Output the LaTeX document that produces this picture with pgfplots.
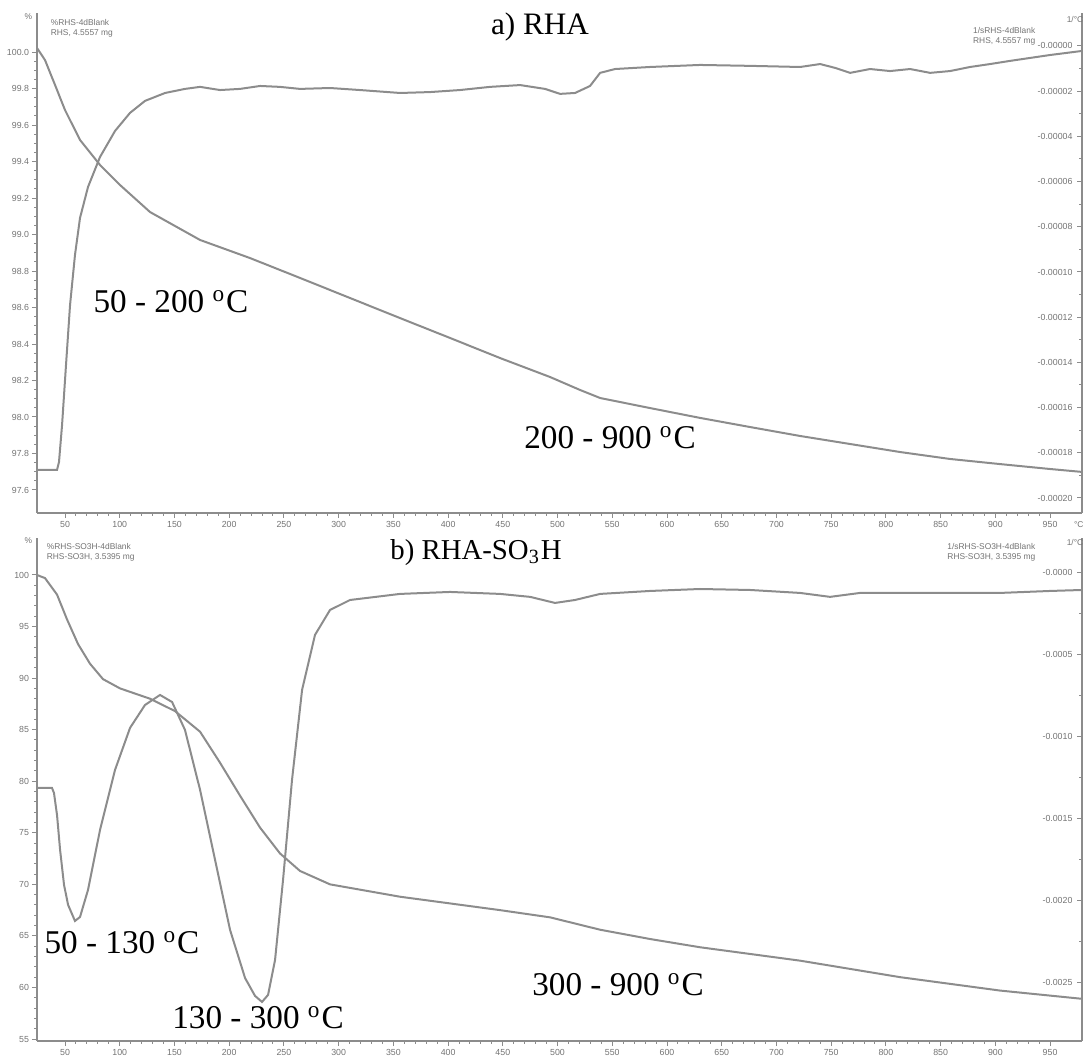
\documentclass[border=0pt]{standalone}
\usepackage{pgfplots}
\pgfplotsset{compat=1.18}
\usepackage{fontspec}
\setmainfont{Liberation Serif}
\newfontfamily\tickfont{Liberation Sans}
\definecolor{crv}{gray}{0.55}
\definecolor{axc}{gray}{0.55}
\definecolor{tlc}{gray}{0.45}
\pgfplotsset{
  tgbase/.style={
    scale only axis, anchor=south west,
    xmin=24.4, xmax=979.2,
    axis lines*=left,
    axis line style={axc, line width=0.35pt},
    tick style={axc, line width=0.25pt},
    tick align=outside,
    major tick length=1.3pt, minor tick length=0.7pt,
    xtick={50,100,...,950}, minor x tick num=4,
    /pgf/number format/assume math mode=true,
    ticklabel style={font=\fontsize{2.2}{2.5}\selectfont\tickfont, text=tlc, inner sep=0.5pt},
    xticklabel style={/pgf/number format/1000 sep={}},
    clip=false,
  },
  dtgbase/.style={
    scale only axis, anchor=south west,
    xmin=24.4, xmax=979.2,
    axis x line=none, axis y line*=right,
    axis line style={axc, line width=0.35pt},
    tick style={axc, line width=0.25pt},
    tick align=inside,
    major tick length=1.3pt, minor tick length=0.7pt,
    minor y tick num=1,
    /pgf/number format/assume math mode=true,
    yticklabel style={font=\fontsize{2.2}{2.5}\selectfont\tickfont, text=tlc, anchor=east, xshift=-1.6pt, inner sep=0.6pt},
    clip=false,
  },
  crvstyle/.style={crv, line width=0.5pt, no marks},
}
\begin{document}
\begin{tikzpicture}
% ---------------- panel a ----------------
\begin{axis}[tgbase, at={(9.25pt,136pt)}, width=261.25pt, height=125pt,
  ymin=97.474, ymax=100.214,
  ytick={97.6,97.8,98.0,98.2,98.4,98.6,98.8,99.0,99.2,99.4,99.6,99.8,100.0},
  yticklabels={97.6,97.8,98.0,98.2,98.4,98.6,98.8,99.0,99.2,99.4,99.6,99.8,100.0},
  minor y tick num=3]
\addplot[crvstyle] coordinates {
(24.4,100.022) (31.7,99.956) (40.9,99.819) (50.0,99.682) (63.7,99.518)
(82.0,99.381) (100.3,99.271) (127.7,99.123) (173.4,98.970) (219.0,98.871)
(264.7,98.762) (310.4,98.652) (356.1,98.542) (401.8,98.433) (447.5,98.323)
(493.2,98.219) (520.6,98.148) (538.9,98.104) (584.5,98.049) (630.2,97.995)
(675.9,97.945) (721.6,97.896) (767.3,97.852) (813.0,97.808) (858.6,97.770)
(904.3,97.742) (950.0,97.715) (979.2,97.699)
};
\end{axis}
\begin{axis}[dtgbase, at={(9.25pt,136pt)}, width=261.25pt, height=125pt,
  ymin=-20.664, ymax=1.46,
  ytick={0,-2,-4,-6,-8,-10,-12,-14,-16,-18,-20},
  yticklabels={-0.00000,-0.00002,-0.00004,-0.00006,-0.00008,-0.00010,-0.00012,-0.00014,-0.00016,-0.00018,-0.00020}]
\addplot[crvstyle] coordinates {
(24.4,-18.76) (42.7,-18.76) (44.5,-18.41) (47.3,-16.77) (50.9,-14.12)
(54.6,-11.46) (59.1,-9.25) (63.7,-7.61) (71.0,-6.24) (82.0,-4.91)
(95.7,-3.76) (109.4,-2.96) (123.1,-2.43) (141.4,-2.08) (159.6,-1.90)
(173.4,-1.81) (191.6,-1.95) (209.9,-1.90) (228.2,-1.77) (246.4,-1.81)
(264.7,-1.90) (292.1,-1.86) (319.5,-1.95) (356.1,-2.08) (383.5,-2.04)
(410.9,-1.95) (438.3,-1.81) (465.8,-1.73) (488.6,-1.90) (502.3,-2.12)
(516.0,-2.08) (529.7,-1.77) (538.9,-1.19) (552.6,-1.02) (584.5,-0.93)
(630.2,-0.84) (675.9,-0.88) (721.6,-0.93) (739.9,-0.80) (753.6,-0.97)
(767.3,-1.19) (785.5,-1.02) (803.8,-1.11) (822.1,-1.02) (840.4,-1.19)
(858.6,-1.11) (876.9,-0.93) (895.2,-0.80) (913.5,-0.66) (931.7,-0.53)
(950.0,-0.40) (979.2,-0.22)
};
\end{axis}
% ---------------- panel b ----------------
\begin{axis}[tgbase, at={(9.25pt,4pt)}, width=261.25pt, height=125.75pt,
  ymin=54.81, ymax=103.59,
  ytick={55,60,65,70,75,80,85,90,95,100},
  minor y tick num=4]
\addplot[crvstyle] coordinates {
(24.4,100.0) (31.7,99.7) (42.7,98.1) (51.8,95.7) (61.9,93.3)
(72.8,91.4) (84.7,89.9) (100.3,89.0) (127.7,88.0) (150.5,86.8)
(173.4,84.8) (191.6,81.8) (209.9,78.6) (228.2,75.5) (246.4,73.0)
(264.7,71.3) (292.1,70.0) (356.1,68.8) (447.5,67.5) (493.2,66.8)
(538.9,65.6) (584.5,64.7) (630.2,63.9) (721.6,62.6) (813.0,61.0)
(904.3,59.7) (979.2,58.9)
};
\end{axis}
\begin{axis}[dtgbase, at={(9.25pt,4pt)}, width=261.25pt, height=125.75pt,
  ymin=-28.54, ymax=2.13,
  ytick={0,-5,-10,-15,-20,-25},
  yticklabels={-0.0000,-0.0005,-0.0010,-0.0015,-0.0020,-0.0025}]
\addplot[crvstyle] coordinates {
(24.4,-13.11) (38.1,-13.11) (39.9,-13.41) (42.7,-14.76) (45.5,-16.89)
(49.1,-19.02) (52.8,-20.24) (59.1,-21.22) (63.7,-20.98) (71.0,-19.33)
(82.0,-15.67) (95.7,-12.01) (109.4,-9.45) (123.1,-8.05) (136.8,-7.44)
(147.8,-7.87) (159.6,-9.57) (173.4,-13.23) (187.1,-17.50) (200.8,-21.77)
(214.5,-24.70) (223.6,-25.79) (230.0,-26.16) (235.5,-25.73) (241.9,-23.60)
(249.2,-18.72) (257.4,-12.62) (266.6,-7.13) (278.4,-3.78) (292.1,-2.26)
(310.4,-1.65) (356.1,-1.28) (401.8,-1.16) (447.5,-1.28) (474.9,-1.46)
(497.7,-1.83) (516.0,-1.65) (538.9,-1.28) (584.5,-1.10) (630.2,-0.98)
(675.9,-1.04) (721.6,-1.22) (749.0,-1.46) (776.4,-1.22) (813.0,-1.22)
(858.6,-1.22) (904.3,-1.22) (950.0,-1.10) (979.2,-1.04)
};
\end{axis}
% ---------------- texts ----------------
\begin{scope}[every node/.style={inner sep=0pt}]
\node[font=\fontsize{7.8}{9}\selectfont] at (135pt,257.5pt) {a) RHA};
\node[font=\fontsize{8.3}{10}\selectfont] at (42.75pt,188.75pt) {50 - 200 \textsuperscript{o}C};
\node[font=\fontsize{8.3}{10}\selectfont] at (152.5pt,154.75pt) {200 - 900 \textsuperscript{o}C};
\node[font=\fontsize{7.2}{9}\selectfont] at (119pt,126pt) {b) RHA-SO\textsubscript{3}H};
\node[font=\fontsize{8.3}{10}\selectfont] at (30.5pt,28.5pt) {50 - 130 \textsuperscript{o}C};
\node[font=\fontsize{8.3}{10}\selectfont] at (64.5pt,9.75pt) {130 - 300 \textsuperscript{o}C};
\node[font=\fontsize{8.3}{10}\selectfont] at (154.5pt,18pt) {300 - 900 \textsuperscript{o}C};
% headers
\begin{scope}[every node/.append style={font=\fontsize{2.1}{2.5}\selectfont\tickfont, text=tlc}]
\node[anchor=east] at (8.2pt,260pt) {\%};
\node[anchor=north west, align=left] at (12.5pt,259.5pt) {\%RHS-4dBlank\\RHS, 4.5557 mg};
\node[anchor=north east, align=left] at (259pt,257.5pt) {1/sRHS-4dBlank\\RHS, 4.5557 mg};
\node[anchor=east] at (271pt,259.3pt) {1/°C};
\node[anchor=west] at (268.3pt,133.2pt) {°C};
\node[anchor=east] at (8.2pt,129.2pt) {\%};
\node[anchor=north west, align=left] at (11.5pt,128.5pt) {\%RHS-SO3H-4dBlank\\RHS-SO3H, 3.5395 mg};
\node[anchor=north east, align=left] at (259pt,128.5pt) {1/sRHS-SO3H-4dBlank\\RHS-SO3H, 3.5395 mg};
\node[anchor=east] at (271pt,128.5pt) {1/°C};
\end{scope}
\end{scope}
\pgfresetboundingbox
\path[use as bounding box] (0pt,0pt) rectangle (272.25pt,264.25pt);
\end{tikzpicture}
\end{document}
